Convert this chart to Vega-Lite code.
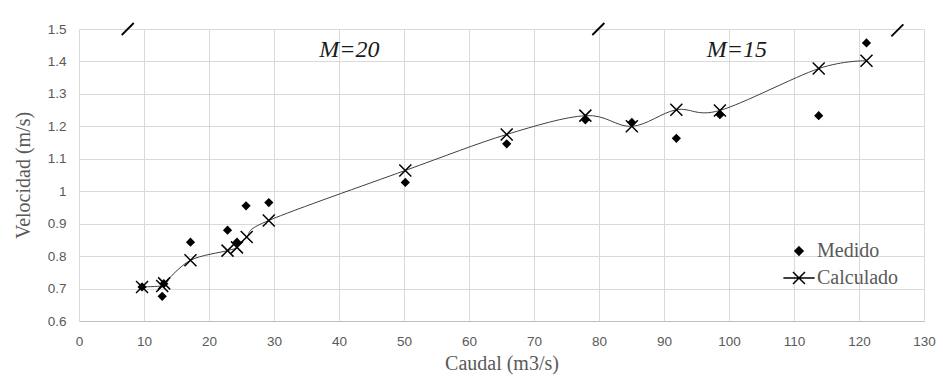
{
  "$schema": "https://vega.github.io/schema/vega-lite/v6.json",
  "width": 845,
  "height": 292,
  "autosize": "none",
  "padding": {"left": 79, "top": 29, "right": 19, "bottom": 55},
  "background": "white",
  "datasets": {
    "puntos": [
      {"q": 9.7, "v": 0.705, "serie": "Medido"},
      {"q": 12.8, "v": 0.676, "serie": "Medido"},
      {"q": 13.05, "v": 0.715, "serie": "Medido"},
      {"q": 17.15, "v": 0.843, "serie": "Medido"},
      {"q": 22.85, "v": 0.88, "serie": "Medido"},
      {"q": 24.3, "v": 0.843, "serie": "Medido"},
      {"q": 25.7, "v": 0.955, "serie": "Medido"},
      {"q": 29.2, "v": 0.965, "serie": "Medido"},
      {"q": 50.2, "v": 1.027, "serie": "Medido"},
      {"q": 65.8, "v": 1.146, "serie": "Medido"},
      {"q": 77.9, "v": 1.22, "serie": "Medido"},
      {"q": 85.05, "v": 1.212, "serie": "Medido"},
      {"q": 91.9, "v": 1.163, "serie": "Medido"},
      {"q": 98.6, "v": 1.236, "serie": "Medido"},
      {"q": 113.8, "v": 1.233, "serie": "Medido"},
      {"q": 121.15, "v": 1.457, "serie": "Medido"},
      {"q": 9.7, "v": 0.705, "serie": "Calculado"},
      {"q": 12.8, "v": 0.708, "serie": "Calculado"},
      {"q": 13.1, "v": 0.716, "serie": "Calculado"},
      {"q": 17.15, "v": 0.787, "serie": "Calculado"},
      {"q": 22.85, "v": 0.817, "serie": "Calculado"},
      {"q": 24.3, "v": 0.827, "serie": "Calculado"},
      {"q": 25.8, "v": 0.859, "serie": "Calculado"},
      {"q": 29.2, "v": 0.91, "serie": "Calculado"},
      {"q": 50.2, "v": 1.064, "serie": "Calculado"},
      {"q": 65.8, "v": 1.175, "serie": "Calculado"},
      {"q": 77.9, "v": 1.233, "serie": "Calculado"},
      {"q": 85.05, "v": 1.2, "serie": "Calculado"},
      {"q": 91.9, "v": 1.251, "serie": "Calculado"},
      {"q": 98.6, "v": 1.249, "serie": "Calculado"},
      {"q": 113.8, "v": 1.378, "serie": "Calculado"},
      {"q": 121.15, "v": 1.402, "serie": "Calculado"}
    ],
    "marcas": [
      {"q": 7.5, "v": 1.5},
      {"q": 79.9, "v": 1.5},
      {"q": 125.9, "v": 1.496}
    ],
    "textos": [
      {"q": 41.6, "v": 1.414, "t": "M=20"},
      {"q": 101.2, "v": 1.414, "t": "M=15"}
    ]
  },
  "config": {
    "view": {"stroke": null},
    "axis": {
      "grid": true,
      "gridColor": "#d9d9d9",
      "gridWidth": 1,
      "ticks": false,
      "labelFlush": false,
      "labelFont": "Liberation Sans",
      "labelFontSize": 13.5,
      "labelColor": "#595959",
      "titleFont": "Liberation Serif",
      "titleFontSize": 20,
      "titleFontWeight": "normal",
      "titleColor": "#595959"
    }
  },
  "encoding": {
    "x": {
      "field": "q",
      "type": "quantitative",
      "scale": {"domain": [0, 130], "nice": false, "zero": false},
      "axis": {
        "title": "Caudal (m3/s)",
        "values": [0, 10, 20, 30, 40, 50, 60, 70, 80, 90, 100, 110, 120, 130],
        "domain": true,
        "domainColor": "#bfbfbf",
        "labelPadding": 13,
        "titlePadding": 6
      }
    },
    "y": {
      "field": "v",
      "type": "quantitative",
      "scale": {"domain": [0.6, 1.5], "nice": false, "zero": false},
      "axis": {
        "title": "Velocidad (m/s)",
        "values": [0.6, 0.7, 0.8, 0.9, 1, 1.1, 1.2, 1.3, 1.4, 1.5],
        "format": "~g",
        "domain": false,
        "labelPadding": 13,
        "titlePadding": 14
      }
    }
  },
  "layer": [
    {
      "data": {"name": "puntos"},
      "transform": [{"filter": "datum.serie === 'Calculado'"}],
      "mark": {"type": "line", "interpolate": "cardinal", "color": "#404040", "strokeWidth": 1},
      "encoding": {}
    },
    {
      "data": {"name": "puntos"},
      "mark": {"type": "point", "filled": false, "stroke": "black", "strokeWidth": 1.5, "size": 144, "opacity": 0},
      "encoding": {
        "shape": {
          "field": "serie",
          "type": "nominal",
          "scale": {
            "domain": ["Medido", "Calculado"],
            "range": [
              "M0,-0.68L0.68,0L0,0.68L-0.68,0Z M0,-0.48L0.48,0L0,0.48L-0.48,0Z M0,-0.28L0.28,0L0,0.28L-0.28,0Z M-0.12,0L0.12,0",
              "M-1,-1L1,1M-1,1L1,-1M-2.6,0L2.6,0"
            ]
          },
          "legend": {
            "orient": "none",
            "legendX": 710,
            "legendY": 212,
            "title": null,
            "padding": 0,
            "labelFont": "Liberation Serif",
            "labelFontSize": 20,
            "labelColor": "#595959",
            "labelOffset": 8,
            "rowPadding": 7,
            "symbolSize": 144,
            "symbolFillColor": "black",
            "symbolStrokeWidth": 1.5,
            "symbolOpacity": 1
          }
        }
      }
    },
    {
      "data": {"name": "puntos"},
      "transform": [{"filter": "datum.serie === 'Medido'"}],
      "mark": {"type": "point", "shape": "diamond", "filled": true, "color": "black", "size": 85, "opacity": 1},
      "encoding": {}
    },
    {
      "data": {"name": "puntos"},
      "transform": [{"filter": "datum.serie === 'Calculado'"}],
      "mark": {"type": "point", "shape": "M-1,-1L1,1M-1,1L1,-1", "filled": false, "stroke": "black", "strokeWidth": 1.5, "size": 144, "opacity": 1},
      "encoding": {}
    },
    {
      "data": {"name": "marcas"},
      "mark": {"type": "point", "shape": "M-1,1L1,-1", "filled": false, "stroke": "black", "strokeWidth": 1.8, "size": 144, "opacity": 1, "clip": false},
      "encoding": {}
    },
    {
      "data": {"name": "textos"},
      "mark": {"type": "text", "font": "Liberation Serif", "fontStyle": "italic", "fontSize": 24, "color": "#1a1a1a", "align": "center", "baseline": "alphabetic"},
      "encoding": {"text": {"field": "t"}}
    }
  ]
}
